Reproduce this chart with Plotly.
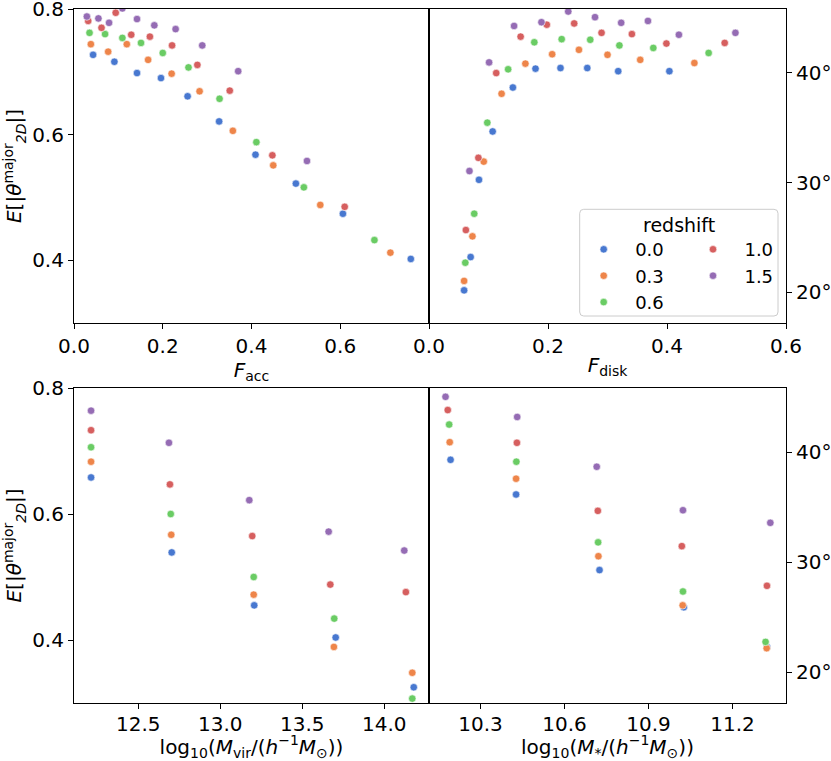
import math
import plotly.graph_objects as go

# ---------------- data ----------------
redshifts = ["0.0", "0.3", "0.6", "1.0", "1.5"]
colors = ["#4878d0", "#ee854a", "#6acc64", "#d65f5f", "#956cb4"]
legend_rank = [1, 3, 5, 2, 4]
legend_group = ["legend", "legend", "legend", "legend2", "legend2"]

# Panel 1: F_acc
facc_x = [
    [0.043, 0.091, 0.142, 0.196, 0.256, 0.327, 0.409, 0.500, 0.606, 0.759],
    [0.038, 0.077, 0.119, 0.167, 0.220, 0.283, 0.358, 0.449, 0.555, 0.713],
    [0.035, 0.070, 0.109, 0.151, 0.200, 0.258, 0.328, 0.411, 0.518, 0.677],
    [0.032, 0.062, 0.094, 0.129, 0.171, 0.221, 0.278, 0.351, 0.447, 0.610],
    [0.029, 0.055, 0.079, 0.109, 0.142, 0.181, 0.229, 0.289, 0.370, 0.525],
]
facc_y = [
    [0.727, 0.716, 0.698, 0.690, 0.661, 0.621, 0.568, 0.522, 0.474, 0.402],
    [0.744, 0.732, 0.744, 0.719, 0.697, 0.669, 0.606, 0.551, 0.488, 0.412],
    [0.762, 0.760, 0.754, 0.746, 0.730, 0.707, 0.657, 0.588, 0.516, 0.432],
    [0.781, 0.770, 0.794, 0.759, 0.756, 0.742, 0.711, 0.670, 0.567, 0.485],
    [0.788, 0.785, 0.778, 0.801, 0.784, 0.774, 0.768, 0.742, 0.701, 0.558],
]

# Panel 2: F_disk
fdisk_x = [
    [0.059, 0.070, 0.084, 0.107, 0.141, 0.179, 0.221, 0.266, 0.318, 0.404],
    [0.059, 0.073, 0.092, 0.122, 0.162, 0.207, 0.252, 0.300, 0.355, 0.446],
    [0.061, 0.076, 0.098, 0.133, 0.177, 0.223, 0.271, 0.320, 0.377, 0.470],
    [0.062, 0.083, 0.113, 0.154, 0.198, 0.244, 0.290, 0.341, 0.399, 0.497],
    [0.068, 0.101, 0.143, 0.189, 0.234, 0.279, 0.323, 0.368, 0.420, 0.515],
]
fdisk_y = [
    [0.352, 0.405, 0.528, 0.605, 0.675, 0.705, 0.706, 0.706, 0.701, 0.701],
    [0.367, 0.438, 0.557, 0.665, 0.713, 0.728, 0.735, 0.727, 0.719, 0.714],
    [0.396, 0.474, 0.619, 0.704, 0.747, 0.752, 0.751, 0.742, 0.738, 0.730],
    [0.448, 0.563, 0.698, 0.756, 0.775, 0.777, 0.762, 0.760, 0.745, 0.746],
    [0.542, 0.715, 0.773, 0.779, 0.796, 0.787, 0.778, 0.781, 0.759, 0.762],
]

# Panel 3: log10 Mvir
mvir_x = [
    [12.212, 12.704, 13.207, 13.704, 14.180],
    [12.212, 12.701, 13.204, 13.693, 14.171],
    [12.212, 12.698, 13.204, 13.695, 14.171],
    [12.212, 12.693, 13.195, 13.671, 14.132],
    [12.212, 12.687, 13.177, 13.661, 14.122],
]
mvir_y = [
    [0.658, 0.539, 0.455, 0.404, 0.325],
    [0.683, 0.567, 0.472, 0.389, 0.348],
    [0.706, 0.600, 0.500, 0.434, 0.307],
    [0.733, 0.647, 0.565, 0.488, 0.476],
    [0.764, 0.713, 0.622, 0.572, 0.542],
]

# Panel 4: log10 Mstar
mstar_x = [
    [10.193, 10.427, 10.725, 11.026, 11.323],
    [10.190, 10.427, 10.721, 11.022, 11.322],
    [10.188, 10.428, 10.720, 11.023, 11.318],
    [10.183, 10.430, 10.719, 11.019, 11.323],
    [10.175, 10.431, 10.715, 11.023, 11.335],
]
mstar_y = [
    [0.686, 0.631, 0.511, 0.452, 0.389],
    [0.714, 0.656, 0.533, 0.455, 0.387],
    [0.742, 0.683, 0.555, 0.477, 0.397],
    [0.765, 0.713, 0.605, 0.549, 0.486],
    [0.786, 0.754, 0.675, 0.606, 0.586],
]

y_range = [0.3, 0.8]
deg_ticks = [20, 30, 40]
facc_ticks = [0.0, 0.2, 0.4, 0.6]
fdisk_ticks = [0.0, 0.2, 0.4, 0.6]
mvir_ticks = [12.5, 13.0, 13.5, 14.0]
mstar_ticks = [10.3, 10.6, 10.9, 11.2]
y_ticks = [0.4, 0.6, 0.8]

# ---------------- figure ----------------
FONT = "DejaVu Sans"
W, H = 831, 761
ML, MR, MT, MB = 74, 45, 9, 58
PW, PH = W - ML - MR, H - MT - MB


def px_x(px):
    return (px - ML) / PW


def px_y(py):
    return (H - MB - py) / PH


split = px_x(429)
top_dom = [px_y(323), 1.0]
bot_dom = [0.0, px_y(388)]

fig = go.Figure()
panels = [
    (facc_x, facc_y, "x", "y"),
    (fdisk_x, fdisk_y, "x2", "y2"),
    (mvir_x, mvir_y, "x3", "y3"),
    (mstar_x, mstar_y, "x4", "y4"),
]
for p, (xs, ys, xa, ya) in enumerate(panels):
    for i, z in enumerate(redshifts):
        fig.add_trace(go.Scatter(
            x=xs[i], y=ys[i], xaxis=xa, yaxis=ya, mode="markers",
            marker=dict(color=colors[i], size=7.5, line=dict(color="white", width=0.6)),
            name="\u00a0\u00a0" + z, legendgroup=z, legend=legend_group[i],
            legendrank=legend_rank[i], showlegend=(p == 1),
        ))

# empty traces so the secondary (degree) axes are drawn
for xa, ya in (("x2", "y5"), ("x4", "y6")):
    fig.add_trace(go.Scatter(x=[], y=[], xaxis=xa, yaxis=ya, mode="markers",
                             showlegend=False, hoverinfo="skip"))

tickfont = dict(family=FONT, size=20, color="black")
axis_common = dict(
    showline=True, linecolor="black", linewidth=1.1, mirror=True,
    ticks="outside", ticklen=5, tickwidth=1.1, tickcolor="black",
    showgrid=False, zeroline=False, tickfont=tickfont, automargin=False,
    ticklabeloverflow="allow",
)
title_font = dict(family=FONT, size=20, color="black")

ylab = "<i>E</i>[|<i>θ</i><sup>major</sup><sub><i>2D</i></sub>|]"
deg_range = [y_range[0] * 180 / math.pi, y_range[1] * 180 / math.pi]
deg_axis = dict(side="right", range=deg_range, tickvals=deg_ticks,
                ticktext=[f"{t}°" for t in deg_ticks], showline=False,
                ticks="outside", ticklen=5, tickwidth=1.1, tickcolor="black",
                showgrid=False, zeroline=False, tickfont=tickfont, automargin=False,
                ticklabeloverflow="allow")
no_tick = {k: v for k, v in axis_common.items() if k != "ticks"}

fig.update_layout(
    width=W, height=H,
    margin=dict(l=ML, r=MR, t=MT, b=MB),
    paper_bgcolor="white", plot_bgcolor="white",
    font=dict(family=FONT, color="black"),
    xaxis=dict(domain=[0, split], anchor="y", range=[0, 0.8], tickvals=facc_ticks,
               tickformat=".1f", title=dict(text="<i>F</i><sub>acc</sub>", font=title_font, standoff=0),
               **axis_common),
    yaxis=dict(domain=top_dom, anchor="x", range=y_range, tickvals=y_ticks, tickformat=".1f",
               title=dict(text=ylab, font=title_font, standoff=8), **axis_common),
    xaxis2=dict(domain=[split, 1], anchor="y2", range=[0, 0.6], tickvals=fdisk_ticks,
                tickformat=".1f", title=dict(text="<i>F</i><sub>disk</sub>", font=title_font, standoff=0),
                **axis_common),
    yaxis2=dict(domain=top_dom, anchor="x2", range=y_range, showticklabels=False, ticks="", **no_tick),
    xaxis3=dict(domain=[0, split], anchor="y3", range=[12.108, 14.273], tickvals=mvir_ticks,
                tickformat=".1f", ticklabelstandoff=-2,
                title=dict(text="log<sub>10</sub>(<i>M</i><sub>vir</sub>/(<i>h</i><sup>−1</sup><i>M</i><sub>⊙</sub>))",
                           font=title_font, standoff=3),
                **axis_common),
    yaxis3=dict(domain=bot_dom, anchor="x3", range=y_range, tickvals=y_ticks, tickformat=".1f",
                title=dict(text=ylab, font=title_font, standoff=8), **axis_common),
    xaxis4=dict(domain=[split, 1], anchor="y4", range=[10.116, 11.391], tickvals=mstar_ticks,
                tickformat=".1f", ticklabelstandoff=-2,
                title=dict(text="log<sub>10</sub>(<i>M</i><sub>*</sub>/(<i>h</i><sup>−1</sup><i>M</i><sub>⊙</sub>))",
                           font=title_font, standoff=3),
                **axis_common),
    yaxis4=dict(domain=bot_dom, anchor="x4", range=y_range, showticklabels=False, ticks="", **no_tick),
    yaxis5=dict(overlaying="y2", anchor="x2", **deg_axis),
    yaxis6=dict(overlaying="y4", anchor="x4", **deg_axis),
    legend=dict(x=px_x(583.7), y=px_y(231.1), xanchor="left", yanchor="top",
                bgcolor="rgba(0,0,0,0)", borderwidth=0, font=dict(family=FONT, size=18, color="black"),
                tracegroupgap=0),
    legend2=dict(x=px_x(693), y=px_y(231.1), xanchor="left", yanchor="top",
                 bgcolor="rgba(0,0,0,0)", borderwidth=0, font=dict(family=FONT, size=18, color="black"),
                 tracegroupgap=0),
)

# legend frame (matplotlib-like rounded box) and title
x0, x1 = px_x(579.7), px_x(778)
y0, y1 = px_y(316), px_y(209.3)
rx, ry = 4 / PW, 4 / PH
path = (f"M {x0+rx},{y0} L {x1-rx},{y0} Q {x1},{y0} {x1},{y0+ry} L {x1},{y1-ry} "
        f"Q {x1},{y1} {x1-rx},{y1} L {x0+rx},{y1} Q {x0},{y1} {x0},{y1-ry} "
        f"L {x0},{y0+ry} Q {x0},{y0} {x0+rx},{y0} Z")
fig.add_shape(type="path", path=path, xref="paper", yref="paper",
              line=dict(color="#cccccc", width=1), fillcolor="rgba(255,255,255,0.8)", layer="above")
fig.add_annotation(x=px_x(679), y=px_y(225), xref="paper", yref="paper", text="redshift",
                   showarrow=False, font=dict(family=FONT, size=19, color="black"),
                   xanchor="center", yanchor="middle")

fig.write_html("out.html", config={"displayModeBar": False})

# remove the default page margin so the figure sits at the window's top-left corner
with open("out.html", "r", encoding="utf-8") as f:
    html = f.read()
html = html.replace("<body>", '<body style="margin:0;padding:0;overflow:hidden">', 1)
with open("out.html", "w", encoding="utf-8") as f:
    f.write(html)
